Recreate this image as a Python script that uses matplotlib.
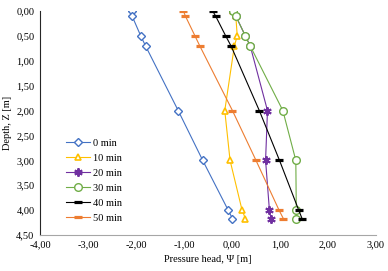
import matplotlib
matplotlib.use("Agg")
import matplotlib.pyplot as plt
from matplotlib.ticker import FuncFormatter

plt.rcParams['font.family'] = ['Liberation Serif', 'DejaVu Serif']

# depth of the measurement points [m]
depth = [0.0, 0.1, 0.5, 0.7, 2.0, 3.0, 4.0, 4.17]

# pressure head per time step [m]
psi_0 = [-2.09, -2.08, -1.90, -1.80, -1.12, -0.61, -0.08, 0.01]
psi_10 = [0.03, 0.08, 0.11, 0.05, -0.15, -0.04, 0.21, 0.28]
psi_20 = [0.03, 0.08, 0.28, 0.38, 0.74, 0.70, 0.78, 0.81]
psi_30 = [0.03, 0.08, 0.28, 0.38, 1.06, 1.33, 1.34, 1.34]
psi_40 = [-0.40, -0.34, -0.13, -0.02, 0.57, 0.99, 1.39, 1.46]
psi_50 = [-1.01, -0.97, -0.77, -0.67, 0.01, 0.50, 0.98, 1.07]

labels = ['0 min', '10 min', '20 min', '30 min', '40 min', '50 min']
x_ticks = [-4, -3, -2, -1, 0, 1, 2, 3]
y_ticks = [0, 0.5, 1, 1.5, 2, 2.5, 3, 3.5, 4, 4.5]

fig = plt.figure(figsize=(3.88, 2.71), dpi=100)
ax = fig.add_axes([0.103, 0.133, 0.866, 0.826])

# series styles (Excel-like)
styles = [
    dict(color='#4472C4', marker='D', ms=4, mfc='white', mew=1.0),
    dict(color='#FFC000', marker='^', ms=5, mfc='white', mew=1.2),
    dict(color='#7030A0', marker=(6, 2, 0), ms=6, mew=1.4),
    dict(color='#70AD47', marker='o', ms=5.5, mfc='white', mew=1.0),
    dict(color='#000000', marker='_', ms=6, mew=2.3),
    dict(color='#ED7D31', marker='_', ms=6, mew=2.3),
]
series = [psi_0, psi_10, psi_20, psi_30, psi_40, psi_50]

for vals, lab, st in zip(series, labels, styles):
    ax.plot(vals, depth, lw=0.8, label=lab, **st)

ax.set_xlim(-4, 3)
ax.set_ylim(4.5, 0)
ax.set_xticks(x_ticks)
ax.set_yticks(y_ticks)
fmt = FuncFormatter(lambda v, p: '{:.2f}'.format(v).replace('.', ','))
ax.xaxis.set_major_formatter(fmt)
ax.yaxis.set_major_formatter(fmt)
ax.tick_params(length=0, labelsize=7.5, pad=4)

for s in ['top', 'right']:
    ax.spines[s].set_visible(False)
ax.spines['bottom'].set_color('#A6A6A6')
ax.spines['left'].set_color('#262626')

ax.set_xlabel('Pressure head, Ψ [m]', fontsize=7.5, labelpad=4)
ax.set_ylabel('Depth, Z [m]', fontsize=7.5, labelpad=3)

ax.legend(loc='upper left', bbox_to_anchor=(0.065, 0.45), frameon=False,
          fontsize=7.5, handlelength=2.3, labelspacing=0.55, handletextpad=0.3,
          borderaxespad=0)

fig.savefig('out.png', dpi=100)
